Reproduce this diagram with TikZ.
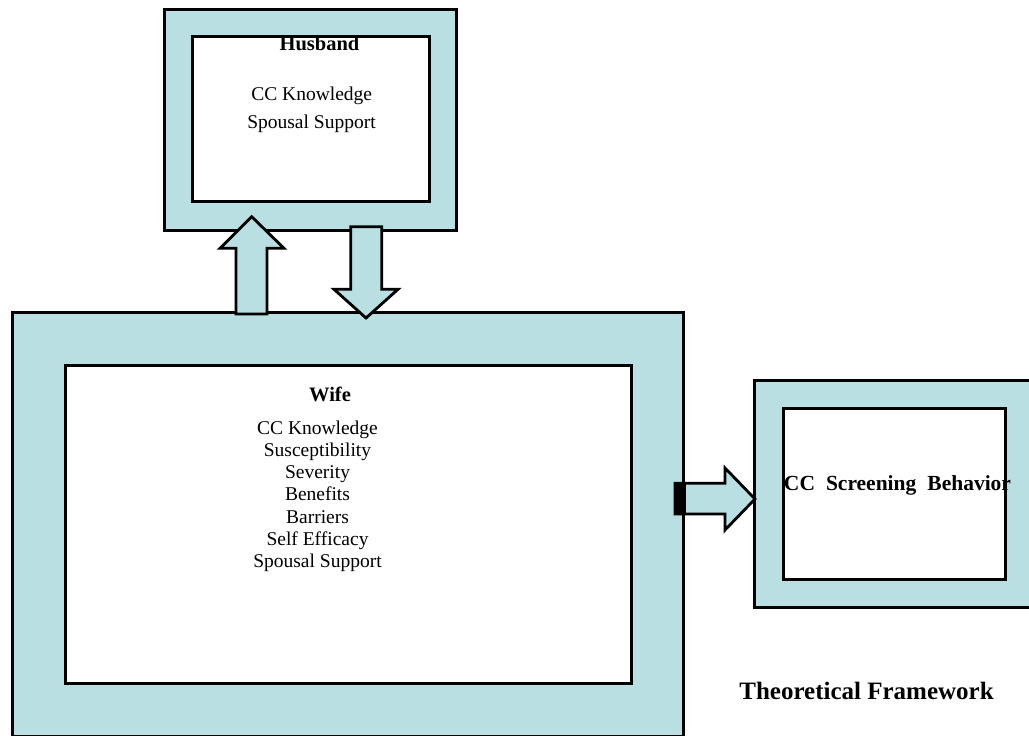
\documentclass[tikz,border=0pt]{standalone}
\usepackage{fontspec}
\setmainfont{Liberation Serif}
\definecolor{boxfill}{RGB}{185,223,226}
\begin{document}
\begin{tikzpicture}[x=1pt,y=-1pt,
  outerbox/.style={draw=black,line width=3pt,fill=boxfill,rectangle,inner sep=0pt},
  innerbox/.style={draw=black,line width=3pt,fill=white,rectangle,inner sep=0pt},
  blockarrow/.style={draw=black,line width=2.8pt,fill=boxfill,line join=miter},
  lbl/.style={anchor=base,inner sep=0pt,font=\fontsize{19.5}{22}\selectfont},
  title/.style={anchor=base,inner sep=0pt,font=\fontsize{20.5}{24}\selectfont\bfseries}]
\useasboundingbox (0,0) rectangle (1029,736);
\begin{scope}
\clip (0,0) rectangle (1029,736);
% Husband
\node[outerbox,minimum width=291.7pt,minimum height=221pt] (husO) at (310.2,119.5) {};
\node[innerbox,minimum width=237pt,minimum height=165.7pt] (husI) at (310.8,118.9) {};
% Wife
\node[outerbox,minimum width=671pt,minimum height=424pt] (wifeO) at (347.8,524.8) {};
\node[innerbox,minimum width=566pt,minimum height=318pt] (wifeI) at (348,524.7) {};
% Behavior
\node[outerbox,minimum width=278pt,minimum height=227.3pt] (behO) at (893,493.7) {};
\node[innerbox,minimum width=221.7pt,minimum height=171pt] (behI) at (894.2,493.8) {};
% block arrows
\draw[blockarrow] (236,314) -- (236,248.3) -- (220,248.3) -- (251.7,216.7) -- (284,248.3) -- (267,248.3) -- (267,314) -- cycle;
\draw[blockarrow] (350.7,226.7) -- (381.7,226.7) -- (381.7,289.3) -- (398,289.3) -- (366,318) -- (334,289.3) -- (350.7,289.3) -- cycle;
\draw[blockarrow] (675,483.3) -- (725,483.3) -- (725,468) -- (755,499) -- (725,530) -- (725,514) -- (675,514) -- cycle;
\fill[black] (674.5,482) rectangle (685.5,515.3);
\end{scope}
% texts
\node[title] (husT) at (319.5,50.7) {Husband};
\node[lbl] (h1) at (311.7,100.5) {CC Knowledge};
\node[lbl] (h2) at (311.5,128) {Spousal Support};
\node[title] (wifeT) at (330,401.7) {Wife};
\node[lbl] (w1) at (317.5,434) {CC Knowledge};
\node[lbl] (w2) at (317.5,456.3) {Susceptibility};
\node[lbl] (w3) at (317.5,478.6) {Severity};
\node[lbl] (w4) at (317.5,500.9) {Benefits};
\node[lbl] (w5) at (317.5,523.2) {Barriers};
\node[lbl] (w6) at (317.5,545.5) {Self Efficacy};
\node[lbl] (w7) at (317.5,567.8) {Spousal Support};
\node[anchor=base,inner sep=0pt,font=\fontsize{21.5}{24}\selectfont\bfseries] (behT) at (897.5,490) {CC\hspace{11pt}Screening\hspace{11pt}Behavior};
\node[anchor=base,inner sep=0pt,font=\fontsize{25}{28}\selectfont\bfseries] (frame) at (866.5,699.3) {Theoretical Framework};
\end{tikzpicture}
\end{document}
